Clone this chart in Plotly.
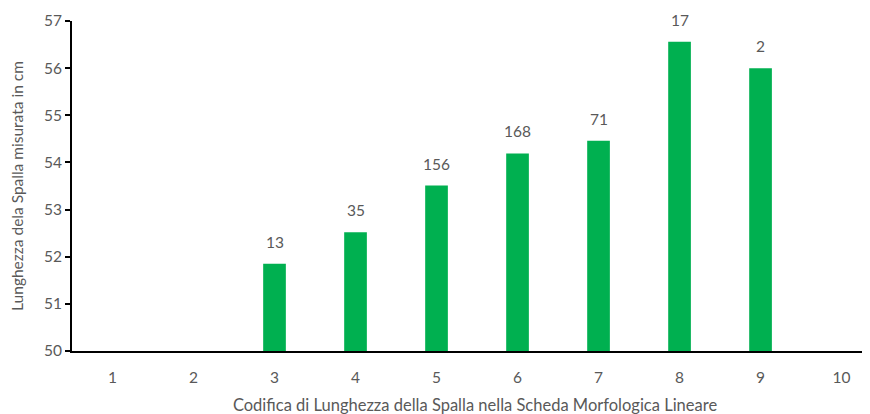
import plotly.graph_objects as go

# categories and values
codes = [3, 4, 5, 6, 7, 8, 9]
lengths = [51.85, 52.52, 53.51, 54.19, 54.46, 56.56, 56.0]
counts = ["13", "35", "156", "168", "71", "17", "2"]
x_ticks = list(range(1, 11))

GREEN = "#00B050"
GREY = "#595959"
FONT = "Lato"
Y0 = 50

fig = go.Figure()
fig.add_trace(go.Bar(
    x=codes, y=[v - Y0 for v in lengths], base=Y0,
    marker=dict(color=GREEN, line=dict(width=0)),
    width=0.28, showlegend=False, hoverinfo="skip",
))

# counts above bars
for c, v, n in zip(codes, lengths, counts):
    fig.add_annotation(
        x=c, y=v, xref="x", yref="y", text=n, showarrow=False,
        yanchor="bottom", yshift=11,
        font=dict(family=FONT, size=15.5, color=GREY))

fig.update_layout(
    width=870, height=414,
    paper_bgcolor="white", plot_bgcolor="white",
    margin=dict(l=64, r=0, t=13, b=71),
    font=dict(family=FONT, size=15, color=GREY),
)
fig.update_xaxes(
    range=[0.5, 10.45], tickmode="array", tickvals=x_ticks,
    ticktext=[str(t) for t in x_ticks],
    showline=True, linecolor="black", linewidth=2,
    ticks="", showgrid=False, zeroline=False, ticklabelstandoff=11,
    tickfont=dict(family=FONT, size=15.5, color=GREY), automargin=False,
    title=dict(text="Codifica di Lunghezza della Spalla nella Scheda Morfologica Lineare",
               font=dict(family=FONT, size=16.5, color=GREY), standoff=15),
)
fig.update_yaxes(
    range=[50, 57], dtick=1,
    showline=True, linecolor="black", linewidth=2,
    ticks="outside", ticklen=5, tickwidth=2, tickcolor="black",
    showgrid=False, zeroline=False, automargin=False,
    tickfont=dict(family=FONT, size=15.5, color=GREY),
    title=dict(text="Lunghezza dela Spalla misurata in cm",
               font=dict(family=FONT, size=15.5, color=GREY), standoff=16),
)

fig.write_html("out.html")
